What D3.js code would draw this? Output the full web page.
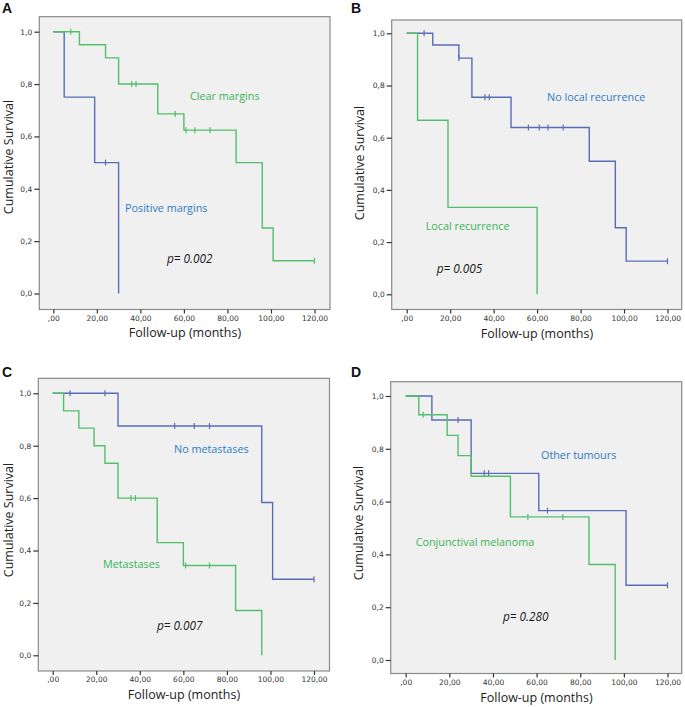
<!DOCTYPE html>
<html><head><meta charset="utf-8">
<script src="https://cdn.jsdelivr.net/npm/d3@7"></script>
<style>
html,body{margin:0;padding:0;background:#fff;}
svg{display:block;}
</style>
</head><body>
<svg id="chart" width="685" height="707"></svg>
<script>
// ---------- data ----------
const xTickValues = [0, 20, 40, 60, 80, 100, 120];
const xTickLabels = [",00", "20,00", "40,00", "60,00", "80,00", "100,00", "120,00"];
const yTickValues = [0, 0.2, 0.4, 0.6, 0.8, 1.0];
const yTickLabels = ["0,0", "0,2", "0,4", "0,6", "0,8", "1,0"];
const panelLetters = ["A", "B", "C", "D"];
const pValues = ["p= 0.002", "p= 0.005", "p= 0.007", "p= 0.280"];
const xTitle = "Follow-up (months)";
const yTitle = "Cumulative Survival";

// Panel A
const aBlueName = "Positive margins";
const aBlueTimes = [0, 5, 19, 30];
const aBlueSurv = [1, 0.75, 0.5, 0];
const aBlueCensor = [24];
const aGreenName = "Clear margins";
const aGreenTimes = [0, 12, 24, 30, 48, 60, 84, 96, 101, 120];
const aGreenSurv = [1, 0.95, 0.90, 0.80, 0.686, 0.624, 0.50, 0.25, 0.125, 0.125];
const aGreenCensor = [8, 36, 38, 56, 61, 65, 72, 120];

// Panel B
const bBlueName = "No local recurrence";
const bBlueTimes = [0, 12, 24, 30, 48, 84, 96, 101, 120];
const bBlueSurv = [1, 0.955, 0.905, 0.755, 0.639, 0.51, 0.255, 0.127, 0.127];
const bBlueCensor = [8, 24, 36, 38, 56, 61, 65, 72, 120];
const bGreenName = "Local recurrence";
const bGreenTimes = [0, 5, 19, 60];
const bGreenSurv = [1, 0.667, 0.333, 0];
const bGreenCensor = [];

// Panel C
const cBlueName = "No metastases";
const cBlueTimes = [0, 30, 96, 101, 120];
const cBlueSurv = [1, 0.875, 0.583, 0.29, 0.29];
const cBlueCensor = [8, 24, 56, 65, 72, 120];
const cGreenName = "Metastases";
const cGreenTimes = [0, 5, 12, 19, 24, 30, 48, 60, 84, 96];
const cGreenSurv = [1, 0.933, 0.867, 0.80, 0.733, 0.60, 0.43, 0.343, 0.171, 0];
const cGreenCensor = [36, 38, 61, 72];

// Panel D
const dBlueName = "Other tumours";
const dBlueTimes = [0, 12, 30, 61, 101, 120];
const dBlueSurv = [1, 0.909, 0.707, 0.566, 0.283, 0.283];
const dBlueCensor = [24, 36, 38, 65, 120];
const dGreenName = "Conjunctival melanoma";
const dGreenTimes = [0, 6, 19, 24, 30, 48, 84, 96];
const dGreenSurv = [1, 0.929, 0.851, 0.774, 0.696, 0.542, 0.362, 0];
const dGreenCensor = [8, 56, 72];

// ---------- layout / style ----------
const BLUE = "#5a6cb6", GREEN = "#52bf6c";
const BLUE_TXT = "#2f7cc2", GREEN_TXT = "#38b454";
const FONT = "'Open Sans', 'Noto Sans', sans-serif";

const panels = [
  { letter: panelLetters[0], lx: 2, ly: 13,
    box: [39.3, 16.7, 330, 309.5], x0: 53.3, x1: 314.5, y1: 31.7, y0: 293.5,
    yTitle: [9, 157], xTitle: [185, 337],
    blue: {name: aBlueName, t: aBlueTimes, s: aBlueSurv, c: aBlueCensor, lab: [125, 208]},
    green: {name: aGreenName, t: aGreenTimes, s: aGreenSurv, c: aGreenCensor, lab: [190, 96]},
    p: [pValues[0], 167, 259] },
  { letter: panelLetters[1], lx: 351, ly: 13,
    box: [391.7, 20, 681.7, 309.5], x0: 406.7, x1: 667.5, y1: 33.3, y0: 294.3,
    yTitle: [360, 163], xTitle: [537, 338],
    blue: {name: bBlueName, t: bBlueTimes, s: bBlueSurv, c: bBlueCensor, lab: [547, 97]},
    green: {name: bGreenName, t: bGreenTimes, s: bGreenSurv, c: bGreenCensor, lab: [425.7, 226]},
    p: [pValues[1], 436.7, 269] },
  { letter: panelLetters[2], lx: 2, ly: 377,
    box: [38.3, 378.3, 329.5, 671], x0: 52.7, x1: 314, y1: 393.3, y0: 655.3,
    yTitle: [9, 520], xTitle: [184, 699],
    blue: {name: cBlueName, t: cBlueTimes, s: cBlueSurv, c: cBlueCensor, lab: [174, 449]},
    green: {name: cGreenName, t: cGreenTimes, s: cGreenSurv, c: cGreenCensor, lab: [103, 564.5]},
    p: [pValues[2], 157, 625.5] },
  { letter: panelLetters[3], lx: 351, ly: 377,
    box: [390.7, 381.7, 681.7, 673.5], x0: 405.7, x1: 667.5, y1: 396, y0: 660,
    yTitle: [358.5, 523], xTitle: [536.5, 702],
    blue: {name: dBlueName, t: dBlueTimes, s: dBlueSurv, c: dBlueCensor, lab: [541, 455]},
    green: {name: dGreenName, t: dGreenTimes, s: dGreenSurv, c: dGreenCensor, lab: [415.7, 542.7]},
    p: [pValues[3], 503, 617] }
];

const svg = d3.select("#chart");

function survAt(t, times, surv) {
  let v = surv[0];
  for (let i = 0; i < times.length; i++) if (times[i] <= t) v = surv[i];
  return v;
}

panels.forEach(P => {
  const g = svg.append("g");
  const x = d3.scaleLinear().domain([0, 120]).range([P.x0, P.x1]);
  const y = d3.scaleLinear().domain([0, 1]).range([P.y0, P.y1]);
  const [bl, bt, br, bb] = P.box;

  g.append("rect").attr("x", bl).attr("y", bt).attr("width", br - bl).attr("height", bb - bt)
    .attr("fill", "#f0f0f0").attr("stroke", "#8a8a8a").attr("stroke-width", 1.2);

  // y axis
  const yAxis = d3.axisLeft(y).tickValues(yTickValues).tickSize(5).tickPadding(2)
    .tickFormat((d, i) => yTickLabels[i]);
  const ya = g.append("g").attr("transform", `translate(${bl},0)`).call(yAxis);
  ya.select(".domain").remove();
  ya.selectAll(".tick line").attr("stroke", "#333").attr("stroke-width", 1.2);
  ya.selectAll(".tick text").attr("font-family", "'DejaVu Sans', sans-serif")
    .attr("font-size", 7.5).attr("fill", "#333");

  // x axis
  const xAxis = d3.axisBottom(x).tickValues(xTickValues).tickSize(4).tickPadding(2)
    .tickFormat((d, i) => xTickLabels[i]);
  const xa = g.append("g").attr("transform", `translate(0,${bb})`).call(xAxis);
  xa.select(".domain").remove();
  xa.selectAll(".tick line").attr("stroke", "#333").attr("stroke-width", 1.2);
  xa.selectAll(".tick text").attr("font-family", "'DejaVu Sans', sans-serif")
    .attr("font-size", 7.5).attr("fill", "#333");

  const line = d3.line().x(d => x(d[0])).y(d => y(d[1])).curve(d3.curveStepAfter);

  [[P.blue, BLUE], [P.green, GREEN]].forEach(([S, col]) => {
    const pts = S.t.map((t, i) => [t, S.s[i]]);
    g.append("path").attr("d", line(pts)).attr("fill", "none")
      .attr("stroke", col).attr("stroke-width", 1.4);
    g.selectAll(null).data(S.c).join("line")
      .attr("x1", d => x(d)).attr("x2", d => x(d))
      .attr("y1", d => y(survAt(d, S.t, S.s)) - 3)
      .attr("y2", d => y(survAt(d, S.t, S.s)) + 3)
      .attr("stroke", col).attr("stroke-width", 1.2);
  });

  // labels
  g.append("text").attr("x", P.blue.lab[0]).attr("y", P.blue.lab[1]).attr("dy", "0.35em")
    .attr("font-family", FONT).attr("font-size", 10.8).attr("fill", BLUE_TXT).text(P.blue.name);
  g.append("text").attr("x", P.green.lab[0]).attr("y", P.green.lab[1]).attr("dy", "0.35em")
    .attr("font-family", FONT).attr("font-size", 10.8).attr("fill", GREEN_TXT).text(P.green.name);
  g.append("text").attr("x", P.p[1]).attr("y", P.p[2]).attr("dy", "0.35em")
    .attr("font-family", FONT).attr("font-style", "italic").attr("font-size", 11.8)
    .attr("fill", "#1a1a1a").text(P.p[0]);

  // axis titles
  g.append("text").attr("x", P.xTitle[0]).attr("y", P.xTitle[1]).attr("text-anchor", "middle")
    .attr("font-family", FONT).attr("font-size", 12.5).attr("fill", "#222").text(xTitle);
  g.append("text").attr("transform", `translate(${P.yTitle[0]},${P.yTitle[1]}) rotate(-90)`)
    .attr("text-anchor", "middle").attr("dy", "0.35em")
    .attr("font-family", FONT).attr("font-size", 12.5).attr("fill", "#222").text(yTitle);

  // panel letter
  g.append("text").attr("x", P.lx).attr("y", P.ly)
    .attr("font-family", "'Liberation Sans', Arial, sans-serif").attr("font-weight", "bold")
    .attr("font-size", 14).attr("fill", "#111").text(P.letter);
});
</script>
</body></html>
